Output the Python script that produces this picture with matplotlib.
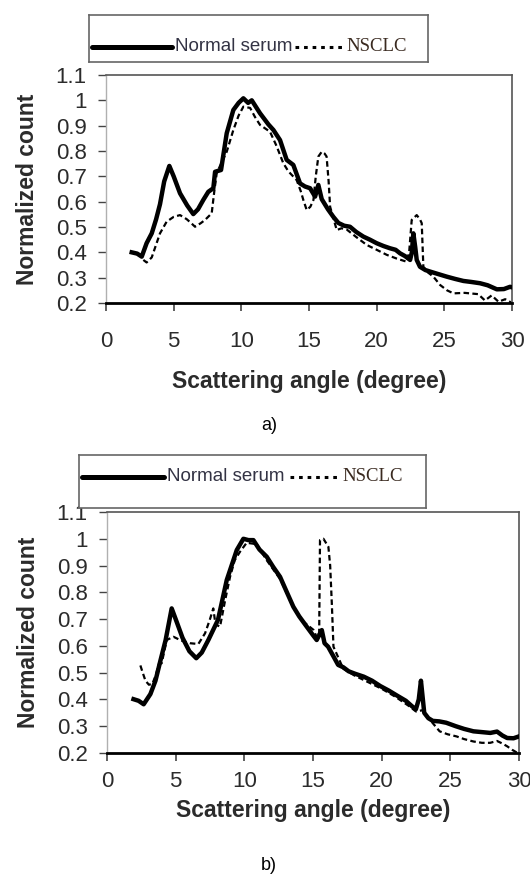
import matplotlib
matplotlib.use("Agg")
import matplotlib.pyplot as plt

# panel a) - normal serum (thick solid)
a_normal_x = [1.9, 2.3, 2.64, 3.0, 3.38, 3.7, 3.99, 4.3, 4.68, 5.0, 5.47, 6.0, 6.45, 6.8, 7.19, 7.56,
              7.93, 8.06, 8.5, 8.92, 9.41, 9.8, 10.15, 10.5, 10.77, 11.38, 12.0, 12.37, 12.86, 13.35,
              13.84, 14.34, 14.7, 15.08, 15.45, 15.69, 15.94, 16.4, 16.8, 17.17, 17.6, 18.03, 18.5,
              19.02, 19.5, 20.0, 20.5, 20.99, 21.4, 21.73, 22.1, 22.47, 22.6, 22.71, 22.85, 22.96,
              23.2, 23.6, 23.95, 24.5, 25.18, 25.8, 26.41, 27.0, 27.64, 28.2, 28.88, 29.4, 29.86, 30.0]
a_normal_y = [0.40, 0.395, 0.383, 0.436, 0.475, 0.53, 0.59, 0.68, 0.741, 0.70, 0.633, 0.585, 0.551,
              0.57, 0.607, 0.639, 0.653, 0.718, 0.725, 0.87, 0.962, 0.99, 1.008, 0.99, 1.0, 0.949,
              0.905, 0.883, 0.843, 0.765, 0.745, 0.672, 0.66, 0.653, 0.62, 0.666, 0.61, 0.57, 0.54,
              0.516, 0.505, 0.501, 0.48, 0.462, 0.45, 0.436, 0.425, 0.416, 0.41, 0.396, 0.385, 0.37,
              0.40, 0.475, 0.42, 0.37, 0.343, 0.33, 0.324, 0.315, 0.304, 0.295, 0.287, 0.283, 0.278,
              0.27, 0.254, 0.255, 0.264, 0.262]

# panel a) - NSCLC (dashed)
a_nsclc_x = [2.76, 3.0, 3.38, 3.7, 3.99, 4.48, 5.0, 5.47, 5.96, 6.3, 6.58, 7.0, 7.32, 7.81, 8.0, 8.18,
             8.5, 8.92, 9.41, 9.8, 10.15, 10.65, 11.0, 11.38, 12.12, 12.6, 13.1, 13.47, 14.09, 14.4,
             14.58, 14.83, 15.1, 15.33, 15.5, 15.69, 15.94, 16.15, 16.3, 16.45, 16.56, 17.05, 17.4,
             17.79, 18.5, 19.27, 20.0, 20.75, 21.5, 22.22, 22.4, 22.59, 22.96, 23.2, 23.33, 23.45,
             23.8, 24.19, 24.69, 25.2, 25.67, 26.5, 27.5, 28.0, 28.5, 29.0, 29.5, 30.0]
a_nsclc_y = [0.37, 0.36, 0.38, 0.43, 0.475, 0.521, 0.54, 0.547, 0.531, 0.515, 0.501, 0.515, 0.528,
             0.554, 0.64, 0.712, 0.75, 0.797, 0.883, 0.94, 0.975, 0.97, 0.935, 0.903, 0.876, 0.82,
             0.752, 0.72, 0.685, 0.64, 0.607, 0.567, 0.58, 0.607, 0.70, 0.778, 0.797, 0.79, 0.778,
             0.68, 0.58, 0.488, 0.495, 0.49, 0.46, 0.429, 0.41, 0.39, 0.375, 0.363, 0.40, 0.528,
             0.547, 0.53, 0.515, 0.343, 0.32, 0.304, 0.271, 0.25, 0.238, 0.24, 0.235, 0.21, 0.23,
             0.205, 0.215, 0.20]

# panel b) - normal serum
b_normal_x = [1.93, 2.3, 2.67, 3.16, 3.53, 3.9, 4.27, 4.71, 5.0, 5.5, 6.0, 6.5, 6.9, 7.38, 8.08, 8.72,
              9.45, 9.93, 10.3, 10.66, 11.1, 11.63, 12.1, 12.6, 13.1, 13.57, 14.0, 14.54, 15.0,
              15.27, 15.45, 15.64, 15.84, 16.1, 16.5, 16.83, 17.21, 17.6, 18.06, 18.7, 19.3, 19.9,
              20.52, 21.1, 21.76, 22.2, 22.49, 22.7, 22.86, 23.0, 23.1, 23.4, 23.72, 24.2, 24.7,
              25.4, 26.0, 26.68, 27.3, 27.91, 28.4, 28.8, 29.14, 29.6, 30.0]
b_normal_y = [0.401, 0.395, 0.382, 0.42, 0.47, 0.547, 0.622, 0.74, 0.70, 0.63, 0.58, 0.554, 0.575,
              0.622, 0.697, 0.846, 0.958, 1.0, 0.995, 0.995, 0.96, 0.933, 0.895, 0.858, 0.80, 0.746,
              0.71, 0.672, 0.64, 0.622, 0.64, 0.659, 0.61, 0.597, 0.56, 0.529, 0.52, 0.505, 0.496,
              0.485, 0.47, 0.45, 0.433, 0.415, 0.395, 0.375, 0.363, 0.40, 0.47, 0.40, 0.35, 0.33,
              0.32, 0.318, 0.313, 0.30, 0.29, 0.281, 0.278, 0.275, 0.28, 0.265, 0.256, 0.255, 0.262]

# panel b) - NSCLC
b_nsclc_x = [2.43, 2.6, 2.8, 3.05, 3.3, 3.55, 3.78, 3.98, 4.35, 4.84, 5.4, 6.05, 6.65, 7.14, 7.5, 7.74,
             7.9, 8.23, 8.6, 8.96, 9.3, 9.69, 10.17, 10.9, 11.63, 12.6, 13.57, 14.3, 15.03, 15.3,
             15.45, 15.51, 15.76, 16.12, 16.25, 16.37, 16.49, 17.2, 18.0, 19.0, 20.0, 21.0, 22.0,
             22.5, 23.0, 23.5, 24.22, 24.8, 25.45, 26.0, 26.68, 27.3, 27.9, 28.4, 28.8, 29.14, 29.5,
             29.9]
b_nsclc_y = [0.527, 0.50, 0.47, 0.455, 0.458, 0.49, 0.533, 0.535, 0.622, 0.634, 0.62, 0.61, 0.607,
             0.647, 0.70, 0.74, 0.68, 0.672, 0.77, 0.858, 0.92, 0.952, 0.985, 0.98, 0.92, 0.85, 0.745,
             0.69, 0.66, 0.63, 0.65, 0.995, 1.0, 0.97, 0.90, 0.759, 0.597, 0.515, 0.49, 0.465, 0.44,
             0.41, 0.375, 0.355, 0.36, 0.325, 0.281, 0.27, 0.262, 0.252, 0.243, 0.238, 0.238, 0.245,
             0.235, 0.225, 0.212, 0.20]

x_ticks = [0, 5, 10, 15, 20, 25, 30]
y_ticks = [0.2, 0.3, 0.4, 0.5, 0.6, 0.7, 0.8, 0.9, 1.0, 1.1]
y_tick_labels = ["0.2", "0.3", "0.4", "0.5", "0.6", "0.7", "0.8", "0.9", "1", "1.1"]

sans = "Liberation Sans"
text_col = "#2b2b2b"

fig = plt.figure(figsize=(5.30, 8.74), dpi=100)


def draw_panel(rect, nx, ny, dx, dy, xpad, xlabelpad):
    ax = fig.add_axes(rect)
    ax.plot(nx, ny, color="black", linewidth=3.2, solid_joinstyle="round", zorder=3)
    ax.plot(dx, dy, color="black", linewidth=1.6, linestyle=(0, (2.5, 1.5)), zorder=2)
    ax.set_xlim(0, 30)
    ax.set_ylim(0.2, 1.1)
    ax.set_xticks(x_ticks)
    ax.set_yticks(y_ticks)
    ax.set_yticklabels(y_tick_labels)
    ax.tick_params(axis="x", direction="out", length=6, width=1.2, color="#444444",
                   labelsize=16, labelcolor=text_col, pad=xpad)
    ax.tick_params(axis="y", direction="out", length=6, width=1.0, color="#444444",
                   labelsize=16, labelcolor=text_col, pad=8)
    for lab in ax.get_xticklabels() + ax.get_yticklabels():
        lab.set_family(sans)
    ax.spines["bottom"].set_linewidth(2.0)
    ax.spines["bottom"].set_color("black")
    ax.spines["left"].set_linewidth(1.0)
    ax.spines["left"].set_color("#b0b0b0")
    for side in ["top", "right"]:
        ax.spines[side].set_linewidth(1.2)
        ax.spines[side].set_color("#555555")
    ax.set_xlabel("Scattering angle (degree)", family=sans, fontweight="bold", fontsize=16.5,
                  color=text_col, labelpad=xlabelpad)
    ax.set_ylabel("Normalized count", family=sans, fontweight="bold", fontsize=16.5,
                  color=text_col, labelpad=12)
    return ax


def draw_legend(rect, line_y):
    lax = fig.add_axes(rect, zorder=5)
    lax.set_xlim(0, 1)
    lax.set_ylim(0, 1)
    lax.set_xticks([])
    lax.set_yticks([])
    lax.set_facecolor("white")
    for s in lax.spines.values():
        s.set_color("#666666")
        s.set_linewidth(1.2)
    lax.plot([0.01, 0.245], [line_y, line_y], color="black", linewidth=3.6, solid_capstyle="round")
    lax.text(0.255, line_y, "Normal serum", family=sans, fontsize=13.5, color="#333344",
             va="center", ha="left")
    lax.plot([0.607, 0.755], [line_y, line_y], color="black", linewidth=2.2,
             linestyle=(0, (1.2, 1.6)))
    lax.text(0.758, line_y, "NSCLC", family="Liberation Serif", fontsize=13.5, color="#3a2a20",
             va="center", ha="left")
    return lax


# panel a
draw_panel([106 / 530, 1 - 303 / 874, 406 / 530, 228 / 874],
           a_normal_x, a_normal_y, a_nsclc_x, a_nsclc_y, 14, 13)
draw_legend([89 / 530, 1 - 62 / 874, 339 / 530, 47 / 874], 0.32)
fig.text(269 / 530, 1 - 425 / 874, "a)", family=sans, fontsize=13, color="black",
         ha="center", va="center")

# panel b
draw_panel([107 / 530, 1 - 753 / 874, 412 / 530, 241 / 874],
           b_normal_x, b_normal_y, b_nsclc_x, b_nsclc_y, 7, 5)
draw_legend([79 / 530, 1 - 508 / 874, 347 / 530, 53 / 874], 0.585)
fig.text(269 / 530, 1 - 866 / 874, "b)", family=sans, fontsize=13, color="black",
         ha="center", va="center")

fig.savefig("out.png", dpi=100)
